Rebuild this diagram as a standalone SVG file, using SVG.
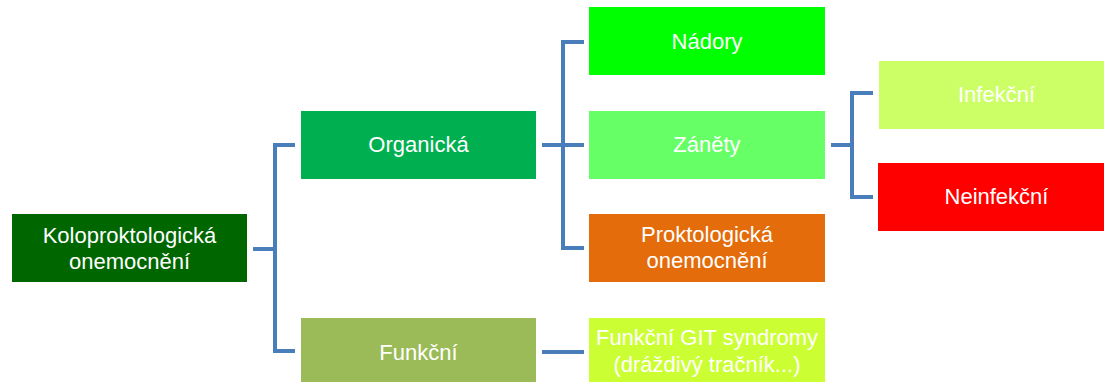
<svg xmlns="http://www.w3.org/2000/svg" width="1104" height="382" viewBox="0 0 1104 382">
<style>
.box{stroke:none}
.t{font-family:"Liberation Sans",Arial,sans-serif;font-size:22px;fill:#ffffff;text-anchor:middle}
.c{fill:none;stroke:#4A7EBB;stroke-width:4;stroke-linejoin:miter}
</style>
<rect width="1104" height="382" fill="#ffffff"/>
<g id="connectors">
<path class="c" d="M253,249 H275 M295,145 H275 V351 H295"/>
<path class="c" d="M542,145 H584 M584,42 H563 V248 H584"/>
<path class="c" d="M831,145 H852 M873,93 H852 V197 H873"/>
<path class="c" d="M542,352 H584"/>
</g>
<g id="root">
<rect class="box" x="12" y="214" width="235" height="68" fill="#006600"/>
<text class="t" x="129.5" y="243">Koloproktologická</text>
<text class="t" x="129.5" y="269">onemocnění</text>
</g>
<g id="organicka">
<rect class="box" x="301" y="111" width="235" height="68" fill="#00B050"/>
<text class="t" x="418.5" y="152">Organická</text>
</g>
<g id="funkcni">
<rect class="box" x="301" y="318" width="235" height="68" fill="#9BBB59"/>
<text class="t" x="418.5" y="360">Funkční</text>
</g>
<g id="nadory">
<rect class="box" x="589" y="7" width="236" height="68" fill="#00FF00"/>
<text class="t" x="707" y="49">Nádory</text>
</g>
<g id="zanety">
<rect class="box" x="589" y="111" width="236" height="68" fill="#66FF66"/>
<text class="t" x="707" y="152">Záněty</text>
</g>
<g id="proktologicka">
<rect class="box" x="589" y="214" width="236" height="68" fill="#E46C0A"/>
<text class="t" x="707" y="242">Proktologická</text>
<text class="t" x="707" y="268">onemocnění</text>
</g>
<g id="funkcni-git">
<rect class="box" x="589" y="318" width="236" height="68" fill="#CCFF33"/>
<text class="t" x="707" y="345">Funkční GIT syndromy</text>
<text class="t" x="707" y="372">(dráždivý tračník...)</text>
</g>
<g id="infekcni">
<rect class="box" x="879" y="61" width="235" height="68" fill="#CCFF66"/>
<text class="t" x="996.5" y="102">Infekční</text>
</g>
<g id="neinfekcni">
<rect class="box" x="878" y="163" width="236" height="68" fill="#FF0000"/>
<text class="t" x="996.5" y="204">Neinfekční</text>
</g>
</svg>
